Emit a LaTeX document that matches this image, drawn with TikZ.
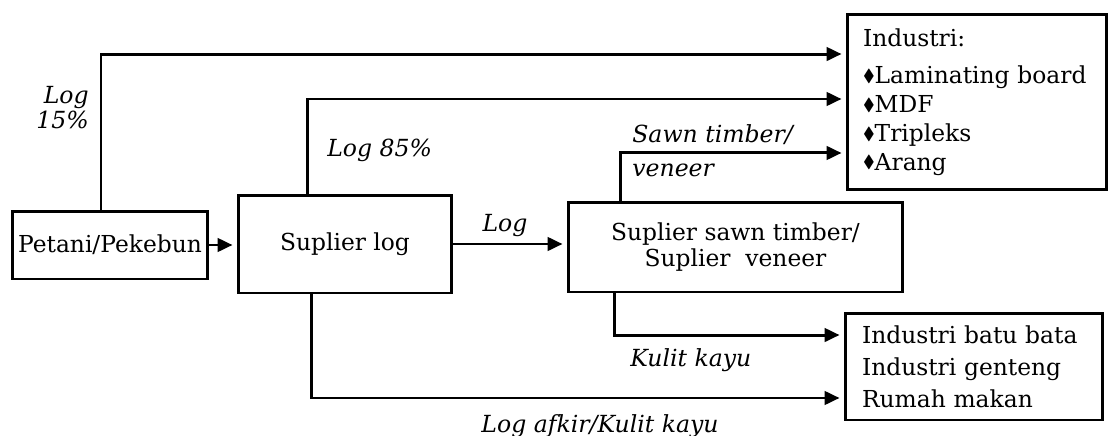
\documentclass[tikz,border=0pt]{standalone}
\usepackage{amssymb}
\usepackage{fontspec}
\setmainfont{DejaVu Serif}
\usetikzlibrary{arrows.meta}
\newcommand{\itemMark}{\raisebox{0.2ex}{\scalebox{0.75}{$\blacklozenge$}}}

\begin{document}
\begin{tikzpicture}[%%
  x=0.02cm,y=-0.02cm,%%
  font=\fontsize{13.3}{15.5}\selectfont,%%
  boxStyle/.style={draw,line width=1.7pt,inner sep=0pt},%%
  flowStyle/.style={line width=1.7pt,-{Triangle[length=0.3cm,width=0.27cm]},shorten >=0.08cm},%%
  labelStyle/.style={font=\fontsize{13.4}{14.2}\selectfont\itshape,inner sep=0pt}%%
]
\useasboundingbox (0,0) rectangle (1112,436);
%% The boxes.
\node[boxStyle,minimum width=3.92cm,minimum height=1.36cm] (petani) at (110,245) {Petani/Pekebun};
\node[boxStyle,minimum width=4.28cm,minimum height=1.96cm] (suplog) at (345,244) {Suplier log};
\node[boxStyle,minimum width=6.7cm,minimum height=1.8cm,align=center,
  font=\fontsize{13.3}{14.8}\selectfont] (sawn) at (735.5,247) {Suplier sawn timber/\\Suplier\ \ veneer};
\node[boxStyle,minimum height=3.52cm,text width=4.56cm,inner xsep=0.32cm,align=left,
  font=\fontsize{13.3}{16.4}\selectfont] (industri) at (977,102)
  {Industri:\\[5pt]\itemMark Laminating board\\\itemMark MDF\\\itemMark Tripleks\\\itemMark Arang};
\node[boxStyle,minimum height=2.14cm,text width=4.48cm,inner xsep=0.34cm,align=left,
  font=\fontsize{13.3}{18.2}\selectfont] (bawah) at (974,366.5)
  {Industri batu bata\\Industri genteng\\Rumah makan};
%% The flows.
\draw[flowStyle] (petani.east) -- (petani.east -| suplog.west);
\draw[flowStyle] ([xshift=-0.18cm]petani.north) |- ([yshift=0.96cm]industri.west);
\draw[flowStyle] ([xshift=-0.76cm]suplog.north) |- ([yshift=0.06cm]industri.west);
\draw[flowStyle] (suplog.east) -- (suplog.east -| sawn.west);
\draw[flowStyle] ([xshift=-2.31cm]sawn.north) |- ([yshift=-1.02cm]industri.west);
\draw[flowStyle] ([xshift=-2.43cm]sawn.south) |- ([yshift=0.63cm]bawah.west);
\draw[flowStyle] ([xshift=-0.68cm]suplog.south) |- ([yshift=-0.63cm]bawah.west);
%% The labels.
\node[labelStyle,align=right,anchor=east] (logA) at (89,108) {Log\\15\%};
\node[labelStyle,anchor=west] (logB) at (327,150) {Log 85\%};
\node[labelStyle] (logC) at (505,226) {Log};
\node[labelStyle,anchor=west] (sawnA) at (632,135) {Sawn timber/};
\node[labelStyle,anchor=west] (sawnB) at (632,170) {veneer};
\node[labelStyle,anchor=west] (kulit) at (630,360) {Kulit kayu};
\node[labelStyle] (afkir) at (600,426) {Log afkir/Kulit kayu};
\end{tikzpicture}
\end{document}
